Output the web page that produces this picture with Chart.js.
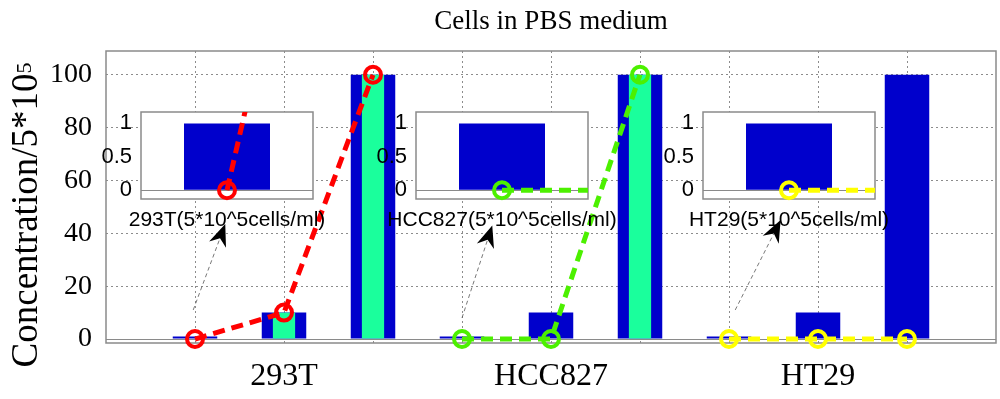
<!DOCTYPE html>
<html>
<head>
<meta charset="utf-8">
<title>Cells in PBS medium</title>
<script src="https://cdn.jsdelivr.net/npm/chart.js@4"></script>
<style>
  body { margin: 0; background: #fff; }
  #wrap { position: relative; width: 1000px; height: 399px; }
  #wrap canvas { position: absolute; }
</style>
</head>
<body>
<div id="wrap">
  <canvas id="mainChart" width="1000" height="399" style="left:0;top:0"></canvas>
  <canvas id="inset0" width="254" height="130" style="left:100px;top:105px"></canvas>
  <canvas id="inset1" width="254" height="130" style="left:375px;top:105px"></canvas>
  <canvas id="inset2" width="254" height="130" style="left:662px;top:105px"></canvas>
</div>
<script>
// data
var cellLines = ['293T', 'HCC827', 'HT29'];
var seeded = [1, 10, 100];              // blue bars, same for every cell line
var measured293T = [0, 10, 100];
var measuredHCC827 = [0, 0, 100];
var measuredHT29 = [0, 0, 0];
var measured = [measured293T, measuredHCC827, measuredHT29];
var yTicks = [0, 20, 40, 60, 80, 100];

// insets
var insetBar = [1, 1, 1];
var insetTicks = [0, 0.5, 1];
var insetLabels = ['293T(5*10^5cells/ml)', 'HCC827(5*10^5cells/ml)', 'HT29(5*10^5cells/ml)'];

// annotation arrows, in main-axis data units
var arrowFrom = [[0.98, 11], [4.0, 8], [7.07, 11]];
var arrowTo = [[1.34, 43.5], [4.34, 43], [7.58, 45]];

var yTitle = 'Concentration/5*10';
var yTitleSup = '5';

// styles
var lineColors = ['#ff0000', '#4cf000', '#ffff00'];
var blue = '#0000cc';
var spring = '#1aff9c';
var axisGray = '#8a8a8a';
var serif = "'Liberation Serif', 'Times New Roman', serif";
var sans = "'Liberation Sans', Arial, sans-serif";

function xPos(g, i) { return g * 3 + i + 1; }

var tickAt = {};
var xTicks = [];
cellLines.forEach(function (name, g) {
    tickAt[xPos(g, 1)] = name;
    seeded.forEach(function (v, i) { xTicks.push(xPos(g, i)); });
});

// frame around the plot area (and white fill for the insets)
var boxPlugin = {
    id: 'box',
    beforeDraw: function (chart, args, opts) {
        if (!opts.fill) return;
        var a = chart.chartArea, c = chart.ctx;
        c.save();
        c.fillStyle = '#fff';
        c.fillRect(a.left, a.top, a.right - a.left, a.bottom - a.top);
        c.restore();
    },
    beforeDatasetsDraw: function (chart) {
        var a = chart.chartArea, c = chart.ctx;
        c.save();
        c.strokeStyle = axisGray;
        c.lineWidth = 1.5;
        c.strokeRect(a.left, a.top, a.right - a.left, a.bottom - a.top);
        c.restore();
    }
};

function drawArrow(ctx, x0, y0, x1, y1) {
    var ang = Math.atan2(y1 - y0, x1 - x0);
    var len = 22, half = 9, back = 7;
    ctx.save();
    ctx.strokeStyle = '#555';
    ctx.lineWidth = 0.8;
    ctx.setLineDash([4, 3]);
    ctx.beginPath();
    ctx.moveTo(x0, y0);
    ctx.lineTo(x1 - Math.cos(ang) * (len - back), y1 - Math.sin(ang) * (len - back));
    ctx.stroke();
    ctx.setLineDash([]);
    ctx.translate(x1, y1);
    ctx.rotate(ang);
    ctx.fillStyle = '#000';
    ctx.beginPath();
    ctx.moveTo(0, 0);
    ctx.lineTo(-len, -half);
    ctx.lineTo(-len + back, 0);
    ctx.lineTo(-len, half);
    ctx.closePath();
    ctx.fill();
    ctx.restore();
}

var arrowPlugin = {
    id: 'arrows',
    afterDatasetsDraw: function (chart) {
        var xs = chart.scales.x, ys = chart.scales.y;
        arrowFrom.forEach(function (f, i) {
            drawArrow(chart.ctx,
                xs.getPixelForValue(f[0]), ys.getPixelForValue(f[1]),
                xs.getPixelForValue(arrowTo[i][0]), ys.getPixelForValue(arrowTo[i][1]));
        });
    }
};

// rotated y label with a real superscript
var yLabelPlugin = {
    id: 'ylabel',
    afterDraw: function (chart) {
        var ctx = chart.ctx, a = chart.chartArea;
        ctx.save();
        ctx.fillStyle = '#000';
        ctx.textBaseline = 'alphabetic';
        ctx.font = '37px ' + serif;
        var w1 = ctx.measureText(yTitle).width;
        ctx.font = '22px ' + serif;
        var w2 = ctx.measureText(yTitleSup).width;
        ctx.translate(37, (a.top + a.bottom) / 2 + 18);
        ctx.rotate(-Math.PI / 2);
        var x = -(w1 + w2) / 2;
        ctx.font = '37px ' + serif;
        ctx.fillText(yTitle, x, 0);
        ctx.font = '22px ' + serif;
        ctx.fillText(yTitleSup, x + w1, -6);
        ctx.restore();
    }
};

// main chart
var mainDatasets = [];
var greenData = [], blueData = [];
cellLines.forEach(function (name, g) {
    mainDatasets.push({
        type: 'line',
        label: name,
        data: measured[g].map(function (v, i) { return { x: xPos(g, i), y: v }; }),
        borderColor: lineColors[g],
        borderWidth: 5,
        borderDash: [12, 7],
        pointRadius: 8,
        pointBorderWidth: 4,
        pointBorderColor: lineColors[g],
        pointBackgroundColor: 'rgba(0,0,0,0)',
        clip: false,
        order: 0
    });
    seeded.forEach(function (v, i) {
        blueData.push({ x: xPos(g, i), y: v });
        greenData.push({ x: xPos(g, i), y: measured[g][i] });
    });
});
mainDatasets.push({
    type: 'bar', label: 'measured', data: greenData, backgroundColor: spring,
    barPercentage: 0.25, categoryPercentage: 1, grouped: false, order: 1
});
mainDatasets.push({
    type: 'bar', label: 'seeded', data: blueData, backgroundColor: blue,
    barPercentage: 0.5, categoryPercentage: 1, grouped: false, order: 2
});

new Chart(document.getElementById('mainChart'), {
    type: 'bar',
    data: { datasets: mainDatasets },
    plugins: [boxPlugin, arrowPlugin, yLabelPlugin],
    options: {
        responsive: false,
        animation: false,
        devicePixelRatio: 1,
        layout: { autoPadding: false, padding: { right: 4 } },
        plugins: {
            legend: { display: false },
            tooltip: { enabled: false },
            box: { fill: false },
            title: {
                display: true,
                fullSize: false,
                text: 'Cells in PBS medium',
                color: '#000',
                font: { family: serif, size: 27, weight: 'normal' },
                padding: { top: 6, bottom: 12.6 }
            }
        },
        scales: {
            x: {
                type: 'linear', min: 0, max: 10, offset: false,
                afterBuildTicks: function (s) { s.ticks = xTicks.map(function (v) { return { value: v }; }); },
                afterFit: function (s) { s.height = 56; s.paddingLeft = 0; s.paddingRight = 0; },
                ticks: {
                    autoSkip: false, maxRotation: 0, minRotation: 0, padding: 14, color: '#000',
                    font: { family: serif, size: 32 },
                    callback: function (v) { return tickAt[v] || ''; }
                },
                grid: { offset: false, drawTicks: false, color: 'rgba(0,0,0,0.45)', lineWidth: 1 },
                border: { display: false, dash: [2, 3] }
            },
            y: {
                min: -1.5, max: 109,
                afterBuildTicks: function (s) { s.ticks = yTicks.map(function (v) { return { value: v }; }); },
                afterFit: function (s) { s.width = 106; s.paddingTop = 0; s.paddingBottom = 0; },
                ticks: { padding: 14, color: '#000', font: { family: serif, size: 28 } },
                grid: {
                    drawTicks: false, lineWidth: 1,
                    color: function (c) { return c.tick && c.tick.value === 0 ? axisGray : 'rgba(0,0,0,0.45)'; }
                },
                border: {
                    display: false,
                    dash: function (c) { return c.tick && c.tick.value === 0 ? [] : [2, 3]; }
                }
            }
        }
    }
});

// insets: one bar at x = 1, the dashed line heads for the next measured point
cellLines.forEach(function (name, g) {
    new Chart(document.getElementById('inset' + g), {
        type: 'bar',
        data: {
            datasets: [{
                type: 'line',
                data: [{ x: 1, y: measured[g][0] }, { x: 2, y: measured[g][1] }],
                xAxisID: 'xl',
                borderColor: lineColors[g],
                borderWidth: 5,
                borderDash: [12, 7],
                pointRadius: 8,
                pointBorderWidth: 4,
                pointBorderColor: lineColors[g],
                pointBackgroundColor: 'rgba(0,0,0,0)',
                clip: { left: 0, top: 0, right: 0, bottom: 6 },
                order: 0
            }, {
                type: 'bar',
                data: [{ x: 1, y: insetBar[g] }],
                xAxisID: 'xl',
                backgroundColor: blue,
                barPercentage: 0.5,
                categoryPercentage: 1,
                order: 1
            }]
        },
        plugins: [boxPlugin],
        options: {
            responsive: false,
            animation: false,
            devicePixelRatio: 1,
            layout: { autoPadding: false, padding: { top: 7 } },
            plugins: {
                legend: { display: false },
                tooltip: { enabled: false },
                box: { fill: true },
                title: {
                    display: true,
                    position: 'bottom',
                    text: insetLabels[g],
                    color: '#000',
                    font: { family: sans, size: 21, weight: 'normal' },
                    padding: { top: 8.4, bottom: 2.4 }
                }
            },
            scales: {
                xl: {
                    type: 'linear', display: false, min: 0.44, max: 1.56, offset: false,
                    afterBuildTicks: function (s) { s.ticks = [{ value: s.min }, { value: s.max }]; }
                },
                y: {
                    min: -0.13, max: 1.17,
                    afterBuildTicks: function (s) { s.ticks = insetTicks.map(function (v) { return { value: v }; }); },
                    afterFit: function (s) { s.width = 41; s.paddingTop = 0; s.paddingBottom = 0; },
                    ticks: {
                        padding: 9, color: '#000', font: { family: sans, size: 22 },
                        callback: function (v) { return String(v); }
                    },
                    grid: {
                        drawTicks: false,
                        color: function (c) { return c.tick && c.tick.value === 0 ? axisGray : 'rgba(0,0,0,0)'; }
                    },
                    border: { display: false }
                },
                yr: {
                    position: 'right', min: -0.13, max: 1.17,
                    ticks: { display: false },
                    grid: { display: false, drawTicks: false },
                    border: { display: false },
                    afterFit: function (s) { s.width = 41; s.paddingTop = 0; s.paddingBottom = 0; }
                }
            }
        }
    });
});
</script>
</body>
</html>
